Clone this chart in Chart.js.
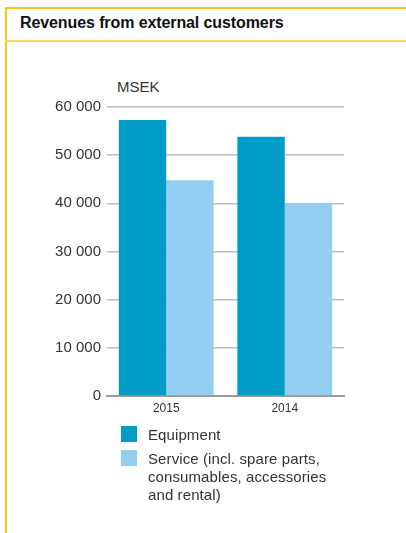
<!DOCTYPE html>
<html>
<head>
<meta charset="utf-8">
<script src="https://cdn.jsdelivr.net/npm/chart.js@4"></script>
<style>
  body { margin: 0; background: #fff; font-family: "Liberation Sans", Arial, sans-serif; }
  #wrap { position: relative; width: 406px; height: 533px; overflow: hidden; }
  .frame-top { position: absolute; left: 5px; top: 7px; width: 401px; height: 2px; background: #fcc816; }
  .frame-left { position: absolute; left: 5px; top: 7px; width: 2px; height: 526px; background: #fcc816; }
  .frame-mid { position: absolute; left: 5px; top: 40px; width: 401px; height: 2px; background: #fdd65a; }
  #title { position: absolute; left: 20px; top: 14px; font-size: 16px; font-weight: bold; color: #111; letter-spacing: -0.1px; }
  #unit { position: absolute; left: 117px; top: 78px; font-size: 15px; color: #333; }
  #chartBox { position: absolute; left: 0; top: 0; width: 406px; height: 533px; }
  #legend { position: absolute; left: 121px; top: 426px; font-size: 15px; color: #333; line-height: 18px; letter-spacing: 0.1px; }
  .item { position: relative; padding-left: 27px; margin-bottom: 6px; }
  .sw { position: absolute; left: 0; top: 0; width: 16px; height: 16px; }
</style>
</head>
<body>
<div id="wrap">
  <div class="frame-top"></div>
  <div class="frame-left"></div>
  <div class="frame-mid"></div>
  <div id="title">Revenues from external customers</div>
  <div id="unit">MSEK</div>
  <div id="chartBox"><canvas id="revChart"></canvas></div>
  <div id="legend"></div>
</div>
<script>
const years = ["2015", "2014"];
const equipment = [57300, 53800];
const service = [44800, 40000];
const seriesNames = ["Equipment", "Service (incl. spare parts,<br>consumables, accessories<br>and rental)"];
const seriesColors = ["#009bc6", "#92cef0"];

document.addEventListener("DOMContentLoaded", function () {
  const ctx = document.getElementById("revChart").getContext("2d");
  new Chart(ctx, {
    type: "bar",
    data: {
      labels: years,
      datasets: [
        { label: "Equipment", data: equipment, backgroundColor: seriesColors[0], borderWidth: 0 },
        { label: "Service", data: service, backgroundColor: seriesColors[1], borderWidth: 0 }
      ]
    },
    options: {
      responsive: true,
      maintainAspectRatio: false,
      animation: false,
      layout: { padding: { top: 107, right: 62, bottom: 113, left: 0 } },
      plugins: { legend: { display: false }, tooltip: { enabled: false } },
      datasets: { bar: { categoryPercentage: 0.8, barPercentage: 1 } },
      scales: {
        x: {
          grid: { display: false, drawTicks: false },
          border: { color: "#999", width: 2 },
          ticks: { color: "#333", font: { family: "Liberation Sans", size: 12 }, padding: 5 },
          afterFit: function (s) { s.height = 24; }
        },
        y: {
          min: 0, max: 60000,
          ticks: {
            stepSize: 10000, padding: 6, color: "#333",
            font: { family: "Liberation Sans", size: 15 },
            callback: function (v) { return v === 0 ? "0" : String(v).replace(/(\d)(?=(\d{3})+$)/g, "$1 "); }
          },
          grid: { color: "#bdbdbd", lineWidth: 1.5, drawTicks: false },
          border: { display: false },
          afterFit: function (s) { s.width = 107; }
        }
      }
    }
  });

  const legend = document.getElementById("legend");
  seriesNames.forEach(function (name, i) {
    const div = document.createElement("div");
    div.className = "item";
    div.innerHTML = '<span class="sw" style="background:' + seriesColors[i] + '"></span>' + name;
    legend.appendChild(div);
  });
});
</script>
</body>
</html>
